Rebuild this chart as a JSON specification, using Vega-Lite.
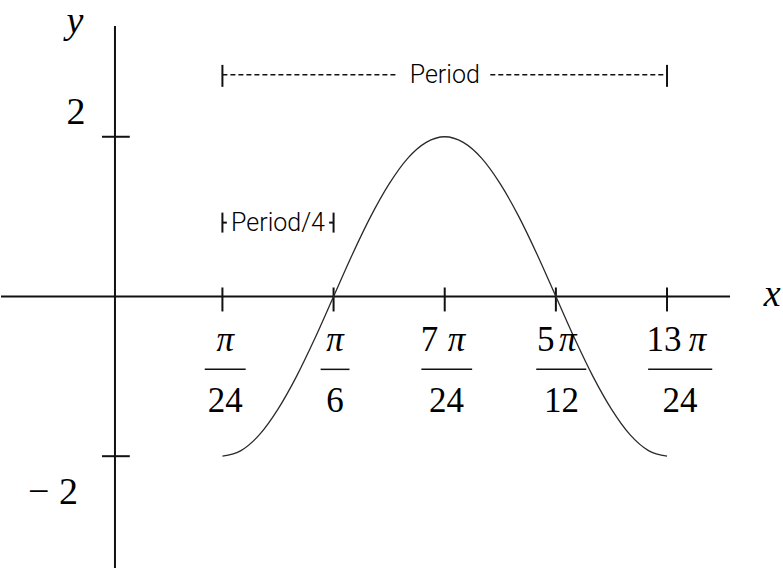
{
  "$schema": "https://vega.github.io/schema/vega-lite/v6.json",
  "width": 783,
  "height": 569,
  "autosize": {"type": "fit", "contains": "padding"},
  "padding": 0,
  "background": "white",
  "config": {"view": {"stroke": null}},
  "datasets": {
    "curve": [
      {"t": 1, "y": -2}, {"t": 1.5, "y": -1.93}, {"t": 2, "y": -1.73}, {"t": 2.5, "y": -1.41},
      {"t": 3, "y": -1.0}, {"t": 3.5, "y": -0.52}, {"t": 4, "y": 0}, {"t": 4.5, "y": 0.52},
      {"t": 5, "y": 1.0}, {"t": 5.5, "y": 1.41}, {"t": 6, "y": 1.73}, {"t": 6.5, "y": 1.93},
      {"t": 7, "y": 2}, {"t": 7.5, "y": 1.93}, {"t": 8, "y": 1.73}, {"t": 8.5, "y": 1.41},
      {"t": 9, "y": 1.0}, {"t": 9.5, "y": 0.52}, {"t": 10, "y": 0}, {"t": 10.5, "y": -0.52},
      {"t": 11, "y": -1.0}, {"t": 11.5, "y": -1.41}, {"t": 12, "y": -1.73}, {"t": 12.5, "y": -1.93},
      {"t": 13, "y": -2}
    ],
    "axisLines": [
      {"x": -4.976, "x2": 14.7, "y": 0, "y2": 0},
      {"x": -1.9, "x2": -1.9, "y": -3.4, "y2": 3.3875}
    ],
    "ticks": [
      {"x": 1, "x2": 1, "y": -0.1875, "y2": 0.1125},
      {"x": 4, "x2": 4, "y": -0.1875, "y2": 0.1125},
      {"x": 7, "x2": 7, "y": -0.1875, "y2": 0.1125},
      {"x": 10, "x2": 10, "y": -0.1875, "y2": 0.1125},
      {"x": 13, "x2": 13, "y": -0.1875, "y2": 0.1125},
      {"x": -2.25, "x2": -1.5, "y": 2, "y2": 2},
      {"x": -2.25, "x2": -1.5, "y": -2, "y2": -2}
    ],
    "brackets": [
      {"x": 1, "x2": 1, "y": 2.625, "y2": 2.9},
      {"x": 13, "x2": 13, "y": 2.625, "y2": 2.9},
      {"x": 1, "x2": 1, "y": 0.8, "y2": 1.05},
      {"x": 4, "x2": 4, "y": 0.8, "y2": 1.05},
      {"x": 1, "x2": 1.12, "y": 0.925, "y2": 0.925},
      {"x": 3.88, "x2": 4, "y": 0.925, "y2": 0.925}
    ],
    "dashes": [
      {"x": 1, "x2": 5.67, "y": 2.775, "y2": 2.775},
      {"x": 8.23, "x2": 13, "y": 2.775, "y2": 2.775}
    ],
    "fractions": [
      {"v": 1, "coef": "", "cx": 1.075, "px": 1.075, "den": "24", "c": 1.075, "b0": 0.523, "b1": 1.628},
      {"v": 4, "coef": "", "cx": 4.04, "px": 4.04, "den": "6", "c": 4.04, "b0": 3.65, "b1": 4.43},
      {"v": 7, "coef": "7", "cx": 6.59, "px": 7.315, "den": "24", "c": 7.046, "b0": 6.37, "b1": 7.74},
      {"v": 10, "coef": "5", "cx": 9.73, "px": 10.32, "den": "12", "c": 10.15, "b0": 9.47, "b1": 10.82},
      {"v": 13, "coef": "13", "cx": 12.92, "px": 13.82, "den": "24", "c": 13.35, "b0": 12.49, "b1": 14.22}
    ],
    "yLabels": [
      {"x": -2.95, "y": 2.1625, "text": "2"},
      {"x": -3.574, "y": -2.6, "text": "− 2"}
    ],
    "axisNames": [
      {"x": -2.98, "y": 3.3, "text": "y"},
      {"x": 15.84, "y": -0.125, "text": "x"}
    ],
    "notes": [
      {"x": 7.0, "y": 2.775, "text": "Period"},
      {"x": 2.5, "y": 0.925, "text": "Period/4"}
    ]
  },
  "layer": [
    {
      "data": {"name": "axisLines"},
      "mark": {"type": "rule", "color": "#111", "strokeWidth": 2},
      "encoding": {
        "x": {"field": "x", "type": "quantitative", "scale": {"domain": [-4.976, 16.13], "nice": false, "zero": false}, "axis": null},
        "x2": {"field": "x2"},
        "y": {"field": "y", "type": "quantitative", "scale": {"domain": [-3.4, 3.7125], "nice": false, "zero": false}, "axis": null},
        "y2": {"field": "y2"}
      }
    },
    {
      "data": {"name": "ticks"},
      "mark": {"type": "rule", "color": "#111", "strokeWidth": 2},
      "encoding": {
        "x": {"field": "x", "type": "quantitative", "axis": null},
        "x2": {"field": "x2"},
        "y": {"field": "y", "type": "quantitative", "axis": null},
        "y2": {"field": "y2"}
      }
    },
    {
      "data": {"name": "curve"},
      "mark": {"type": "line", "color": "#2a2a2a", "strokeWidth": 1.3, "interpolate": "monotone"},
      "encoding": {
        "x": {"field": "t", "type": "quantitative", "axis": null},
        "y": {"field": "y", "type": "quantitative", "axis": null}
      }
    },
    {
      "data": {"name": "brackets"},
      "mark": {"type": "rule", "color": "#111", "strokeWidth": 2},
      "encoding": {
        "x": {"field": "x", "type": "quantitative", "axis": null},
        "x2": {"field": "x2"},
        "y": {"field": "y", "type": "quantitative", "axis": null},
        "y2": {"field": "y2"}
      }
    },
    {
      "data": {"name": "dashes"},
      "mark": {"type": "rule", "color": "#111", "strokeWidth": 1.5, "strokeDash": [5, 3]},
      "encoding": {
        "x": {"field": "x", "type": "quantitative", "axis": null},
        "x2": {"field": "x2"},
        "y": {"field": "y", "type": "quantitative", "axis": null},
        "y2": {"field": "y2"}
      }
    },
    {
      "data": {"name": "fractions"},
      "mark": {"type": "rule", "color": "#111", "strokeWidth": 1.5},
      "encoding": {
        "x": {"field": "b0", "type": "quantitative", "axis": null},
        "x2": {"field": "b1"},
        "y": {"datum": -0.9125, "type": "quantitative", "axis": null}
      }
    },
    {
      "data": {"name": "fractions"},
      "mark": {"type": "text", "font": "Liberation Serif", "fontSize": 35, "color": "#000", "baseline": "alphabetic", "align": "center"},
      "encoding": {
        "x": {"field": "cx", "type": "quantitative", "axis": null},
        "y": {"datum": -0.6875, "type": "quantitative", "axis": null},
        "text": {"field": "coef"}
      }
    },
    {
      "data": {"name": "fractions"},
      "mark": {"type": "text", "font": "Liberation Serif", "fontSize": 35, "fontStyle": "italic", "color": "#000", "baseline": "alphabetic", "align": "center"},
      "encoding": {
        "x": {"field": "px", "type": "quantitative", "axis": null},
        "y": {"datum": -0.6875, "type": "quantitative", "axis": null},
        "text": {"value": "π"}
      }
    },
    {
      "data": {"name": "fractions"},
      "mark": {"type": "text", "font": "Liberation Serif", "fontSize": 35, "color": "#000", "baseline": "alphabetic", "align": "center"},
      "encoding": {
        "x": {"field": "c", "type": "quantitative", "axis": null},
        "y": {"datum": -1.45, "type": "quantitative", "axis": null},
        "text": {"field": "den"}
      }
    },
    {
      "data": {"name": "yLabels"},
      "mark": {"type": "text", "font": "Liberation Serif", "fontSize": 38, "color": "#000", "baseline": "alphabetic", "align": "center"},
      "encoding": {
        "x": {"field": "x", "type": "quantitative", "axis": null},
        "y": {"field": "y", "type": "quantitative", "axis": null},
        "text": {"field": "text"}
      }
    },
    {
      "data": {"name": "axisNames"},
      "mark": {"type": "text", "font": "Liberation Serif", "fontSize": 38, "fontStyle": "italic", "color": "#000", "baseline": "alphabetic", "align": "center"},
      "encoding": {
        "x": {"field": "x", "type": "quantitative", "axis": null},
        "y": {"field": "y", "type": "quantitative", "axis": null},
        "text": {"field": "text"}
      }
    },
    {
      "data": {"name": "notes"},
      "mark": {"type": "text", "font": "Roboto", "fontSize": 25, "fontWeight": 300, "color": "#000", "baseline": "middle", "align": "center"},
      "encoding": {
        "x": {"field": "x", "type": "quantitative", "axis": null},
        "y": {"field": "y", "type": "quantitative", "axis": null},
        "text": {"field": "text"}
      }
    }
  ]
}
